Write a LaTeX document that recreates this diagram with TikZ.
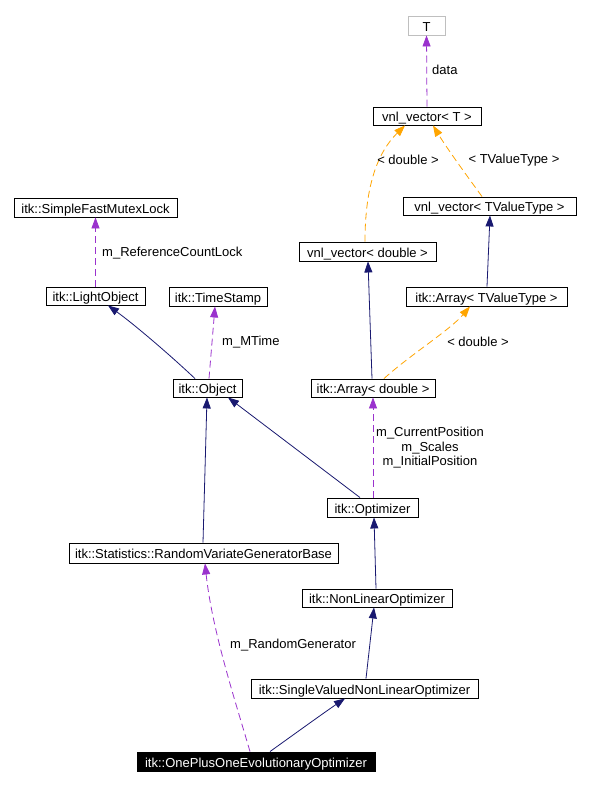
\documentclass[tikz,border=0pt]{standalone}
\usepackage{fontspec}
\setmainfont{Liberation Sans}
\usetikzlibrary{arrows.meta}
\definecolor{navyc}{HTML}{191970}
\definecolor{purplec}{HTML}{9A32CD}
\definecolor{orangec}{HTML}{FFA500}
\definecolor{grayc}{HTML}{BFBFBF}
\tikzset{
  box/.style={draw=black, line width=0.9pt, fill=white, inner sep=0pt, align=center,
    text height=12pt, text depth=1pt, font=\fontsize{13}{15}\selectfont},
  lbl/.style={inner sep=0pt, font=\fontsize{13}{14.5}\selectfont, align=center},
  tip/.style={-{Triangle[length=11pt,width=8pt]}},
  inherit/.style={tip, draw=navyc, line width=0.8pt},
  member/.style={tip, draw=purplec, line width=0.8pt, dash pattern=on 7pt off 4pt},
  templ/.style={tip, draw=orangec, line width=0.8pt, dash pattern=on 7pt off 4pt},
}
\begin{document}
\begin{tikzpicture}[x=1pt,y=-1pt]
\useasboundingbox[fill=white] (0,0) rectangle (608,785);
% nodes
\node[box, draw=grayc, minimum width=37pt, minimum height=19pt] (T) at (426.5,25.5) {T};
\node[box, minimum width=108pt, minimum height=18pt] (vT) at (427,116) {vnl\_vector< T >};
\node[box, minimum width=173pt, minimum height=18pt] (vTV) at (489.5,206) {vnl\_vector< TValueType >};
\node[box, minimum width=137pt, minimum height=19pt] (vD) at (367.5,251.5) {vnl\_vector< double >};
\node[box, minimum width=161pt, minimum height=19pt] (aTV) at (486.5,296.5) {itk::Array< TValueType >};
\node[box, minimum width=163pt, minimum height=19pt] (SFML) at (95.5,207.5) {itk::SimpleFastMutexLock};
\node[box, minimum width=99pt, minimum height=18pt] (LO) at (95.5,296) {itk::LightObject};
\node[box, minimum width=98pt, minimum height=19pt] (TS) at (218,296.5) {itk::TimeStamp};
\node[box, minimum width=69pt, minimum height=18pt] (Obj) at (207.5,388) {itk::Object};
\node[box, minimum width=124pt, minimum height=18pt] (aD) at (373,388) {itk::Array< double >};
\node[box, minimum width=91pt, minimum height=19pt] (Opt) at (372.5,507.5) {itk::Optimizer};
\node[box, minimum width=269pt, minimum height=20pt] (RVGB) at (203.5,553) {itk::Statistics::RandomVariateGeneratorBase};
\node[box, minimum width=150pt, minimum height=18pt] (NLO) at (377,598) {itk::NonLinearOptimizer};
\node[box, minimum width=227pt, minimum height=19pt] (SVNLO) at (364.5,688.5) {itk::SingleValuedNonLinearOptimizer};
\node[box, fill=black, text=white, minimum width=238pt, minimum height=19pt] (OPO) at (256,761.5) {itk::OnePlusOneEvolutionaryOptimizer};
% edges
\draw[member] (vT.north) -- (T.south);
\draw[templ] ([xshift=-2.5pt]vD.north) .. controls (365,185) and (378,152) .. ([xshift=-22pt]vT.south);
\draw[templ] ([xshift=-7.5pt]vTV.north) .. controls (470,180) and (448,150) .. ([xshift=6pt]vT.south);
\draw[inherit] ([xshift=0.5pt]aTV.north) -- ([xshift=0.5pt]vTV.south);
\draw[inherit] ([xshift=-1pt]aD.north) -- ([xshift=0.5pt]vD.south);
\draw[templ] ([xshift=11pt]aD.north) .. controls (410,355) and (450,330) .. ([xshift=-16.5pt]aTV.south);
\draw[member] (LO.north) -- (SFML.south);
\draw[inherit] ([xshift=-12.5pt]Obj.north) .. controls (170,355) and (135,325) .. ([xshift=12.5pt]LO.south);
\draw[member] ([xshift=1.5pt]Obj.north) -- ([xshift=-3pt]TS.south);
\draw[inherit] ([xshift=-0.5pt]RVGB.north) -- ([xshift=-0.5pt]Obj.south);
\draw[inherit] ([xshift=-12.5pt]Opt.north) -- ([xshift=20.5pt]Obj.south);
\draw[member] ([xshift=0.5pt]Opt.north) -- (aD.south);
\draw[inherit] ([xshift=-1pt]NLO.north) -- ([xshift=1.5pt]Opt.south);
\draw[inherit] ([xshift=1.5pt]SVNLO.north) -- ([xshift=-3pt]NLO.south);
\draw[inherit] ([xshift=14pt]OPO.north) .. controls (300,730) and (325,712) .. ([xshift=-19.5pt]SVNLO.south);
\draw[member] ([xshift=-6pt]OPO.north) .. controls (235,700) and (212,630) .. ([xshift=1.5pt]RVGB.south);
% labels
\node[lbl, anchor=west] (l1) at (432,70) {data};
\node[lbl] (l2) at (408,160) {< double >};
\node[lbl] (l3) at (514,160) {< TValueType >};
\node[lbl] (l4) at (478,342) {< double >};
\node[lbl, anchor=west] (l5) at (102,253) {m\_ReferenceCountLock};
\node[lbl, anchor=west] (l6) at (222,342) {m\_MTime};
\node[lbl] (l7) at (430,448) {m\_CurrentPosition\\m\_Scales\\m\_InitialPosition};
\node[lbl, anchor=west] (l8) at (230,645) {m\_RandomGenerator};
\end{tikzpicture}
\end{document}
